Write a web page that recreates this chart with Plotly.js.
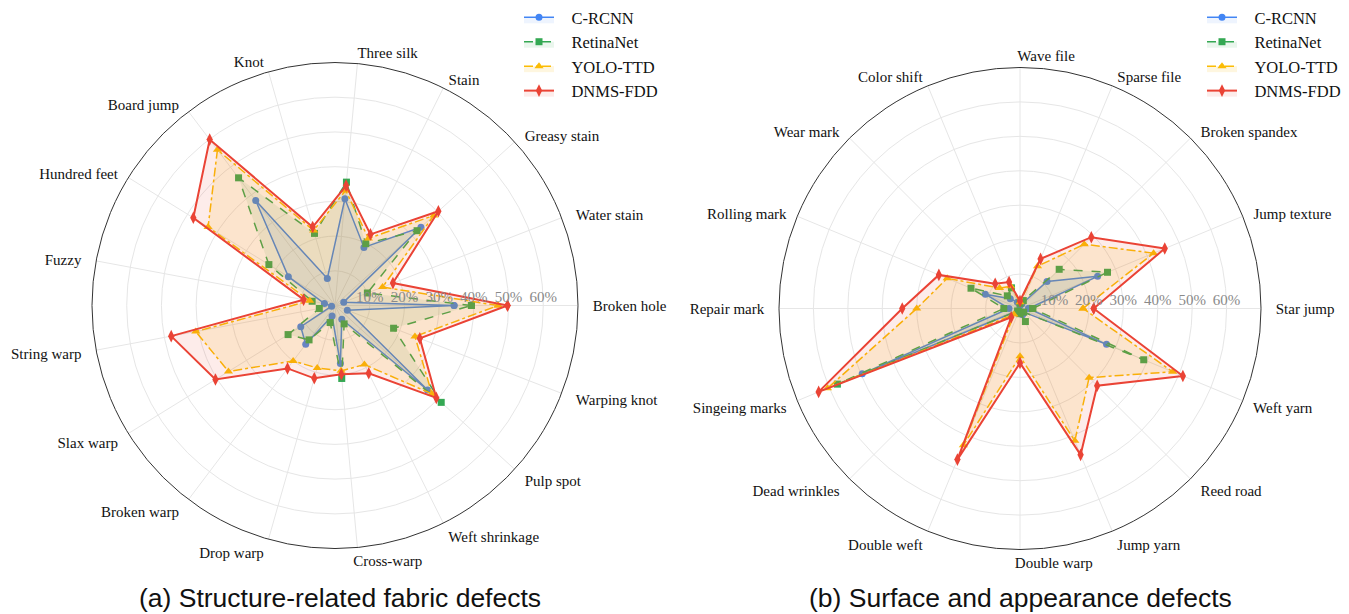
<!DOCTYPE html>
<html>
<head>
<meta charset="utf-8">
<script src="https://cdn.plot.ly/plotly-3.0.1.min.js"></script>
<style>
html,body{margin:0;padding:0;background:#fff;}
#chart{width:1349px;height:614px;}
</style>
</head>
<body>
<div id="chart"></div>
<script>
// ---------------- Data ----------------
const modelNames = ["C-RCNN", "RetinaNet", "YOLO-TTD", "DNMS-FDD"];

const structureCategories = ["Broken hole", "Water stain", "Greasy stain", "Stain", "Three silk", "Knot",
  "Board jump", "Hundred feet", "Fuzzy", "String warp", "Slax warp", "Broken warp", "Drop warp",
  "Cross-warp", "Weft shrinkage", "Pulp spot", "Warping knot"];
const structureCRCNN    = [34.3, 2.7, 33.5, 18.7, 30.9, 8.1, 37.9, 15.8, 3.1, 1.0, 11.6, 14.0, 3.1, 16.8, 4.4, 36.1, 3.8];
const structureRetina   = [39.3, 10.0, 32.0, 19.9, 35.7, 21.6, 46.1, 22.4, 6.7, 4.6, 15.9, 12.4, 5.1, 21.1, 5.9, 41.4, 18.1];
const structureYOLO     = [47.0, 14.7, 38.5, 21.6, 33.3, 22.5, 56.2, 43.0, 7.4, 40.8, 36.1, 20.0, 18.7, 18.9, 19.0, 37.8, 24.7];
const structureDNMS     = [49.7, 17.9, 40.3, 22.9, 34.7, 23.5, 59.9, 48.0, 9.2, 48.0, 40.5, 22.7, 21.8, 19.9, 21.8, 39.5, 26.2];

const surfaceCategories = ["Star jump", "Jump texture", "Broken spandex", "Sparse file", "Wave file", "Color shift",
  "Wear mark", "Rolling mark", "Repair mark", "Singeing marks", "Dead wrinkles", "Double weft",
  "Double warp", "Jump yarn", "Reed road", "Weft yarn"];
const surfaceCRCNN  = [2.5, 24.4, 11.1, 1.5, 0.8, 2.0, 4.0, 10.9, 3.2, 49.6, 1.0, 1.0, 1.5, 2.0, 1.5, 27.2];
const surfaceRetina = [3.7, 27.5, 16.1, 2.5, 1.5, 6.5, 5.2, 15.4, 4.7, 57.4, 1.0, 1.0, 1.5, 4.1, 1.5, 38.9];
const surfaceYOLO   = [18.3, 42.0, 26.4, 13.3, 1.8, 7.0, 8.4, 22.9, 30.0, 60.5, 2.5, 43.0, 13.9, 41.6, 28.4, 48.0];
const surfaceDNMS   = [21.4, 45.5, 29.3, 15.6, 2.2, 8.3, 10.2, 25.5, 34.2, 63.3, 3.6, 47.5, 15.8, 46.0, 31.7, 51.2];

const radialTickValues = [10, 20, 30, 40, 50, 60];
const radialTickLabels = ["10%", "20%", "30%", "40%", "50%", "60%"];
const subplotTitles = ["(a) Structure-related fabric defects", "(b) Surface and appearance defects"];

// ---------------- Styles ----------------
const SERIF = "Liberation Serif";
const SANS = "Liberation Sans";
const styles = [
  {color: "#4285F4", fill: "rgba(66,133,244,0.09)", dash: "solid",   symbol: "circle",       size: 7, width: 1.5},
  {color: "#34A853", fill: "rgba(52,168,83,0.10)",  dash: "dash",    symbol: "square",       size: 7, width: 1.5},
  {color: "#FBBC05", fill: "rgba(251,188,5,0.13)",  dash: "dashdot", symbol: "triangle-up",  size: 8, width: 1.5},
  {color: "#EA4335", fill: "rgba(234,67,53,0.10)",  dash: "solid",   symbol: "diamond-tall", size: 9, width: 2}
];

function closeLoop(a){ return a.concat([a[0]]); }

function makeTraces(cats, series, subplot, legendId){
  return series.map((vals, i) => ({
    type: "scatterpolar",
    subplot: subplot,
    legend: legendId,
    name: "\u00a0\u00a0\u00a0" + modelNames[i],
    theta: closeLoop(cats),
    r: closeLoop(vals),
    mode: "lines+markers",
    fill: "toself",
    fillcolor: styles[i].fill,
    line: {color: styles[i].color, width: styles[i].width, dash: styles[i].dash},
    marker: {color: styles[i].color, symbol: styles[i].symbol, size: styles[i].size},
    hoverinfo: "skip"
  }));
}

const traces = []
  .concat(makeTraces(structureCategories, [structureCRCNN, structureRetina, structureYOLO, structureDNMS], "polar", "legend"))
  .concat(makeTraces(surfaceCategories, [surfaceCRCNN, surfaceRetina, surfaceYOLO, surfaceDNMS], "polar2", "legend2"));

// Category labels: near-vertical ones start at their spoke (as in the reference),
// the others sit a little further from the circle horizontally.
function angularTickText(cats){
  const n = cats.length;
  const sp = " ";
  return cats.map((c, i) => {
    const cos = Math.cos(2 * Math.PI * i / n);
    if (Math.abs(cos) < 0.1) {
      const w = c.length * 6.0;            // rough width of the label, px
      return sp.repeat(Math.round(w / 3.75)) + c;
    }
    const k = Math.round(2.7 * Math.abs(cos));
    return cos > 0 ? sp.repeat(k) + c : c + sp.repeat(k);
  });
}

function polarLayout(domain, cats){
  return {
    domain: domain,
    bgcolor: "rgba(0,0,0,0)",
    radialaxis: {
      range: [0, 70],
      tickvals: radialTickValues,
      ticktext: radialTickLabels,
      angle: 0,
      tickangle: 0,
      side: "counterclockwise",
      showline: false,
      ticks: "",
      gridcolor: "#e6e6e6",
      gridwidth: 1,
      tickfont: {family: SERIF, size: 15, color: "#8a8a8a"}
    },
    angularaxis: {
      direction: "counterclockwise",
      rotation: 0,
      type: "category",
      tickmode: "array",
      tickvals: cats,
      ticktext: angularTickText(cats),
      showline: true,
      linecolor: "#333333",
      linewidth: 1,
      ticks: "",
      gridcolor: "#e6e6e6",
      gridwidth: 1,
      tickfont: {family: SERIF, size: 15, color: "#111111"}
    }
  };
}

const legendStyle = {
  font: {family: SERIF, size: 16.5, color: "#111"},
  bgcolor: "rgba(255,255,255,0)",
  yanchor: "top",
  xanchor: "left",
  tracegroupgap: 0
};

const layout = {
  width: 1349,
  height: 614,
  margin: {l: 0, r: 0, t: 0, b: 0},
  paper_bgcolor: "#ffffff",
  showlegend: true,
  polar: polarLayout({x: [90/1349, 580/1349], y: [66/614, 556/614]}, structureCategories),
  polar2: polarLayout({x: [777/1349, 1263/1349], y: [65/614, 551/614]}, surfaceCategories),
  legend: Object.assign({x: 519/1349, y: 1 + 5/614}, legendStyle),
  legend2: Object.assign({x: 1202/1349, y: 1 + 5/614}, legendStyle),
  annotations: [
    {text: subplotTitles[0], xref: "paper", yref: "paper", x: 340/1349, y: 1 - 598/614, xanchor: "center", yanchor: "middle",
     showarrow: false, font: {family: SANS, size: 26.5, color: "#111"}},
    {text: subplotTitles[1], xref: "paper", yref: "paper", x: 1020/1349, y: 1 - 598/614, xanchor: "center", yanchor: "middle",
     showarrow: false, font: {family: SANS, size: 26.5, color: "#111"}}
  ]
};

Plotly.newPlot("chart", traces, layout, {displayModeBar: false, staticPlot: true});
</script>
</body>
</html>
